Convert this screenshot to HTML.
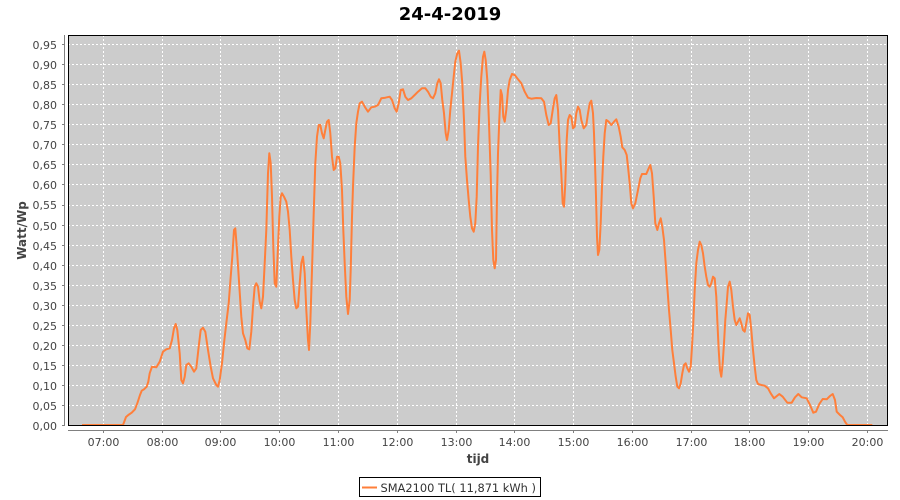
<!DOCTYPE html>
<html><head><meta charset="utf-8"><style>
html,body{margin:0;padding:0;background:#fff;}
svg{display:block;}
text{font-family:"DejaVu Sans","Liberation Sans",sans-serif;}
</style></head><body>
<svg width="900" height="500" viewBox="0 0 900 500" xmlns="http://www.w3.org/2000/svg">
<rect x="0" y="0" width="900" height="500" fill="#ffffff"/>
<text x="450" y="20" font-size="18" font-weight="bold" text-anchor="middle" fill="#000">24-4-2019</text>
<!-- plot background -->
<rect x="68" y="35" width="820" height="391" fill="#cccccc"/>
<!-- grid -->
<g stroke="#ffffff" stroke-width="1" stroke-dasharray="2,2" fill="none">
<line x1="68" x2="888" y1="405.5" y2="405.5"/>
<line x1="68" x2="888" y1="385.5" y2="385.5"/>
<line x1="68" x2="888" y1="365.5" y2="365.5"/>
<line x1="68" x2="888" y1="345.5" y2="345.5"/>
<line x1="68" x2="888" y1="325.5" y2="325.5"/>
<line x1="68" x2="888" y1="305.5" y2="305.5"/>
<line x1="68" x2="888" y1="285.5" y2="285.5"/>
<line x1="68" x2="888" y1="265.5" y2="265.5"/>
<line x1="68" x2="888" y1="245.5" y2="245.5"/>
<line x1="68" x2="888" y1="225.5" y2="225.5"/>
<line x1="68" x2="888" y1="205.5" y2="205.5"/>
<line x1="68" x2="888" y1="184.5" y2="184.5"/>
<line x1="68" x2="888" y1="164.5" y2="164.5"/>
<line x1="68" x2="888" y1="144.5" y2="144.5"/>
<line x1="68" x2="888" y1="124.5" y2="124.5"/>
<line x1="68" x2="888" y1="104.5" y2="104.5"/>
<line x1="68" x2="888" y1="84.5" y2="84.5"/>
<line x1="68" x2="888" y1="64.5" y2="64.5"/>
<line x1="68" x2="888" y1="44.5" y2="44.5"/>
<line y1="35" y2="426" x1="103.5" x2="103.5"/>
<line y1="35" y2="426" x1="162.5" x2="162.5"/>
<line y1="35" y2="426" x1="220.5" x2="220.5"/>
<line y1="35" y2="426" x1="279.5" x2="279.5"/>
<line y1="35" y2="426" x1="338.5" x2="338.5"/>
<line y1="35" y2="426" x1="397.5" x2="397.5"/>
<line y1="35" y2="426" x1="456.5" x2="456.5"/>
<line y1="35" y2="426" x1="514.5" x2="514.5"/>
<line y1="35" y2="426" x1="573.5" x2="573.5"/>
<line y1="35" y2="426" x1="632.5" x2="632.5"/>
<line y1="35" y2="426" x1="691.5" x2="691.5"/>
<line y1="35" y2="426" x1="749.5" x2="749.5"/>
<line y1="35" y2="426" x1="808.5" x2="808.5"/>
<line y1="35" y2="426" x1="867.5" x2="867.5"/>
</g>
<!-- series -->
<polyline fill="none" stroke="#ff7f3a" stroke-width="2" stroke-linejoin="round" points="
82,425 120,425 123,425 126,417 128.3,415 131.7,412.7 135,409.3 137.3,403.3 140,395 141.7,390.7 144,389.3 146.7,386.7 148.3,381.7 149.7,373.3 152,366.7 156.3,367.3 159.7,361.7 163,351.7 166.3,349.3 169.7,348.3 172,340 174,328.3 175.7,324 177.3,330 179.7,353.3 181.3,380 183,383.3 184.7,376.7 186.3,365 188.7,363.3 191.3,366.7 194,371.7 196.3,368.3 198.7,346.7 200.7,330 203,327.7 205.3,331.7 208,350 210.7,366.7 213,378.3 216.3,385 218,386.7 219.7,380 222,363.3 224,343.3 226.3,323.3 228.7,303.3 230.7,276.7 232.3,256.7 234,230 235.3,228.3 237,250 238.7,276.7 240,296.7 241.3,316.7 243,333.3 245.3,340 247.3,348.3 249.3,349.3 251.3,331.7 253,306.7 254.7,286.7 256.3,283.3 258,286.7 259.7,301.7 261.3,308.3 263,296.7 264.7,263.3 266.3,230 268,173.3 269.3,153.3 270.7,163.3 272,196.7 273.3,246.7 274.7,283.3 276.3,286.7 278,246.7 279.3,216.7 280.7,196.7 282,193.3 284,196.7 286.3,201.7 288,211.7 289.7,230 291.3,256.7 293,280 294.7,300 296.3,308.3 298,306.7 299.7,283.3 301.3,263.3 303,256.7 304.7,273.3 306.3,310 308,340 309,350 310.3,323.3 312,270 313.7,213.3 315.3,163.3 317,136.7 318.7,125 320.3,125 322,133.3 323.7,138.3 325.3,130 327,121.7 328.7,120 330.3,133.3 332,156.7 333.7,170 335.3,168.3 337,156.7 338.7,156.7 340.3,163.3 342,190 343.3,230 344.7,263.3 346.3,296.7 348,314 349.7,300 350.7,270 352,216.7 353,186.7 354.7,146.7 356.3,123.3 358,111.7 359.7,103.3 362,101.7 364.7,106.7 368,111.7 371.3,107.3 374.7,106.7 378,105 381.3,98.3 385.3,97.7 389.7,96.7 392,100 394.7,108.3 396.7,111.7 398.7,103.3 400.7,90 403,89.3 405.3,96.7 408,100 411.3,98.3 414.7,95 418,91.7 422,88.3 425.3,88.3 428,91.7 430.7,96.7 433,98.3 435.3,93.3 437.3,83.3 439,79.3 440.7,83.3 442.3,100 444,113.3 445.7,133.3 447,140 448.7,130 450.3,110 452,93.3 453.7,76.7 455.3,61.7 457.3,53.3 459,50.7 460.7,63.3 462.3,83.3 464,120 465.3,156.7 467,180 468.7,200 470.3,216.7 472,228.3 473.7,231.7 475.3,223.3 476.7,196.7 478,146.7 479.7,103.3 481.3,76.7 483,56.7 484.3,51.7 485.7,60 487.3,80 489,123.3 490.7,175 492,230 493.3,260 494.7,268.3 496,260 497,196.7 498,153.3 499.3,120 500.7,90 502,95 503.3,116.7 504.7,121.7 506.3,110 508,90 509.7,80 512,74 514.7,75 518,79.3 521.3,83.3 524.7,91.7 528,97.7 531.3,98.7 536.3,98 541.3,98.3 544,101.7 546.3,115 548.7,125 550.7,123.3 553,108.3 554.7,98.3 556.3,95 558,110 559.7,146.7 561.3,173.3 562.7,203.3 564,206.7 565.3,183.3 566.7,140 568,120 569.7,115 571.3,116.7 573,128.3 574.7,126.7 576.3,113.3 578,106.7 579.7,110 581.3,120 583.7,128.3 586.3,125 588,113.3 589.7,103.3 591.3,100.7 593,113.3 594,133.3 595,163.3 596,196.7 597,236.7 598,255 599.3,250 600.7,223.3 602,186.7 603.3,156.7 604.7,133.3 606.3,120 608.7,121.7 611.3,125 614,121.7 616.3,119.3 618.7,126.7 620.7,136.7 622.3,147.3 624.7,150 626.7,155 628,166.7 629.7,183.3 631.3,203.3 633,208.3 635.3,203.3 638,190 640.3,178.3 642,174 646.3,174 648.7,168.3 650.3,165 652,173.3 653.7,196.7 655.3,223.3 657.3,230 659,223.3 660.7,218.3 662.3,226.7 664,240 665.7,263.3 667.3,286.7 669,310 670.7,330 672.3,350 674,363.3 675.7,376.7 677.3,386.7 679,388.3 680.7,383.3 682.3,373.3 684,365 685.7,363.3 687.3,368.3 689,371.7 690.7,366.7 692,346.7 693.3,323.3 694.7,290 696.3,263.3 698,250 699.7,241.7 701.3,245 703,253.3 704.7,266.7 706.3,276.7 708,285 709.7,286.7 711.3,283.3 713,276.7 714.7,278.3 716.3,296.7 717.3,320 718.7,350 720,370 721.3,376.7 722.7,363.3 724,343.3 725.3,320 726.7,303.3 728,286.7 729.7,281.7 731.3,290 733,306.7 734.7,320 736.3,325 738,321.7 739.7,318.3 741.3,323.3 743,330 744.7,331.7 746.3,323.3 748,313.3 749.7,315 751.3,330 753,350 754.7,366.7 756.3,380 758,384 761.3,385 764.7,385.7 768,388.3 770.7,393.3 774,398.3 779.3,394 782.7,396.7 787.3,402.7 791.7,402.7 795,397.3 798.3,394 801.7,397.3 806.7,398.3 810,405 813.3,412.7 816,411.7 819.3,404 822.7,399 826.7,399.3 830,396 832.7,394 835,400 836.7,411.7 840,415 842.7,417.3 845,421.7 847.3,425 851.7,425 872.3,425"/>
<!-- plot border -->
<rect x="68.5" y="35.5" width="819" height="390" fill="none" stroke="#000" stroke-width="1"/>
<!-- y axis -->
<g stroke="#808080" stroke-width="1">
<line x1="64.5" x2="64.5" y1="35" y2="426"/>
<line x1="62" x2="64" y1="425.5" y2="425.5"/>
<line x1="62" x2="64" y1="405.5" y2="405.5"/>
<line x1="62" x2="64" y1="385.5" y2="385.5"/>
<line x1="62" x2="64" y1="365.5" y2="365.5"/>
<line x1="62" x2="64" y1="345.5" y2="345.5"/>
<line x1="62" x2="64" y1="325.5" y2="325.5"/>
<line x1="62" x2="64" y1="305.5" y2="305.5"/>
<line x1="62" x2="64" y1="285.5" y2="285.5"/>
<line x1="62" x2="64" y1="265.5" y2="265.5"/>
<line x1="62" x2="64" y1="245.5" y2="245.5"/>
<line x1="62" x2="64" y1="225.5" y2="225.5"/>
<line x1="62" x2="64" y1="205.5" y2="205.5"/>
<line x1="62" x2="64" y1="184.5" y2="184.5"/>
<line x1="62" x2="64" y1="164.5" y2="164.5"/>
<line x1="62" x2="64" y1="144.5" y2="144.5"/>
<line x1="62" x2="64" y1="124.5" y2="124.5"/>
<line x1="62" x2="64" y1="104.5" y2="104.5"/>
<line x1="62" x2="64" y1="84.5" y2="84.5"/>
<line x1="62" x2="64" y1="64.5" y2="64.5"/>
<line x1="62" x2="64" y1="44.5" y2="44.5"/>
<!-- x axis -->
<line x1="68" x2="888" y1="430.5" y2="430.5"/>
<line y1="431" y2="433" x1="103.5" x2="103.5"/>
<line y1="431" y2="433" x1="162.5" x2="162.5"/>
<line y1="431" y2="433" x1="220.5" x2="220.5"/>
<line y1="431" y2="433" x1="279.5" x2="279.5"/>
<line y1="431" y2="433" x1="338.5" x2="338.5"/>
<line y1="431" y2="433" x1="397.5" x2="397.5"/>
<line y1="431" y2="433" x1="456.5" x2="456.5"/>
<line y1="431" y2="433" x1="514.5" x2="514.5"/>
<line y1="431" y2="433" x1="573.5" x2="573.5"/>
<line y1="431" y2="433" x1="632.5" x2="632.5"/>
<line y1="431" y2="433" x1="691.5" x2="691.5"/>
<line y1="431" y2="433" x1="749.5" x2="749.5"/>
<line y1="431" y2="433" x1="808.5" x2="808.5"/>
<line y1="431" y2="433" x1="867.5" x2="867.5"/>
</g>
<g font-size="11" fill="#444" text-anchor="end">
<text x="57" y="430">0,00</text>
<text x="57" y="410">0,05</text>
<text x="57" y="390">0,10</text>
<text x="57" y="370">0,15</text>
<text x="57" y="350">0,20</text>
<text x="57" y="330">0,25</text>
<text x="57" y="310">0,30</text>
<text x="57" y="290">0,35</text>
<text x="57" y="270">0,40</text>
<text x="57" y="250">0,45</text>
<text x="57" y="230">0,50</text>
<text x="57" y="209">0,55</text>
<text x="57" y="189">0,60</text>
<text x="57" y="169">0,65</text>
<text x="57" y="149">0,70</text>
<text x="57" y="129">0,75</text>
<text x="57" y="109">0,80</text>
<text x="57" y="89">0,85</text>
<text x="57" y="69">0,90</text>
<text x="57" y="49">0,95</text>
</g>
<g font-size="11" fill="#444" text-anchor="middle">
<text x="103.5" y="446">07:00</text>
<text x="162.5" y="446">08:00</text>
<text x="220.5" y="446">09:00</text>
<text x="279.5" y="446">10:00</text>
<text x="338.5" y="446">11:00</text>
<text x="397.5" y="446">12:00</text>
<text x="456.5" y="446">13:00</text>
<text x="514.5" y="446">14:00</text>
<text x="573.5" y="446">15:00</text>
<text x="632.5" y="446">16:00</text>
<text x="691.5" y="446">17:00</text>
<text x="749.5" y="446">18:00</text>
<text x="808.5" y="446">19:00</text>
<text x="867.5" y="446">20:00</text>
</g>
<text x="478" y="463" font-size="12" font-weight="bold" fill="#444" text-anchor="middle">tijd</text>
<text transform="translate(26,230.5) rotate(-90)" font-size="12" font-weight="bold" fill="#444" text-anchor="middle">Watt/Wp</text>
<!-- legend -->
<rect x="359.5" y="477.5" width="181" height="19" fill="#fff" stroke="#000" stroke-width="1"/>
<line x1="362" x2="377" y1="487.5" y2="487.5" stroke="#ff7f3a" stroke-width="2"/>
<text x="380.5" y="492" font-size="11.4" fill="#333">SMA2100 TL( 11,871 kWh )</text>
</svg>
</body></html>
